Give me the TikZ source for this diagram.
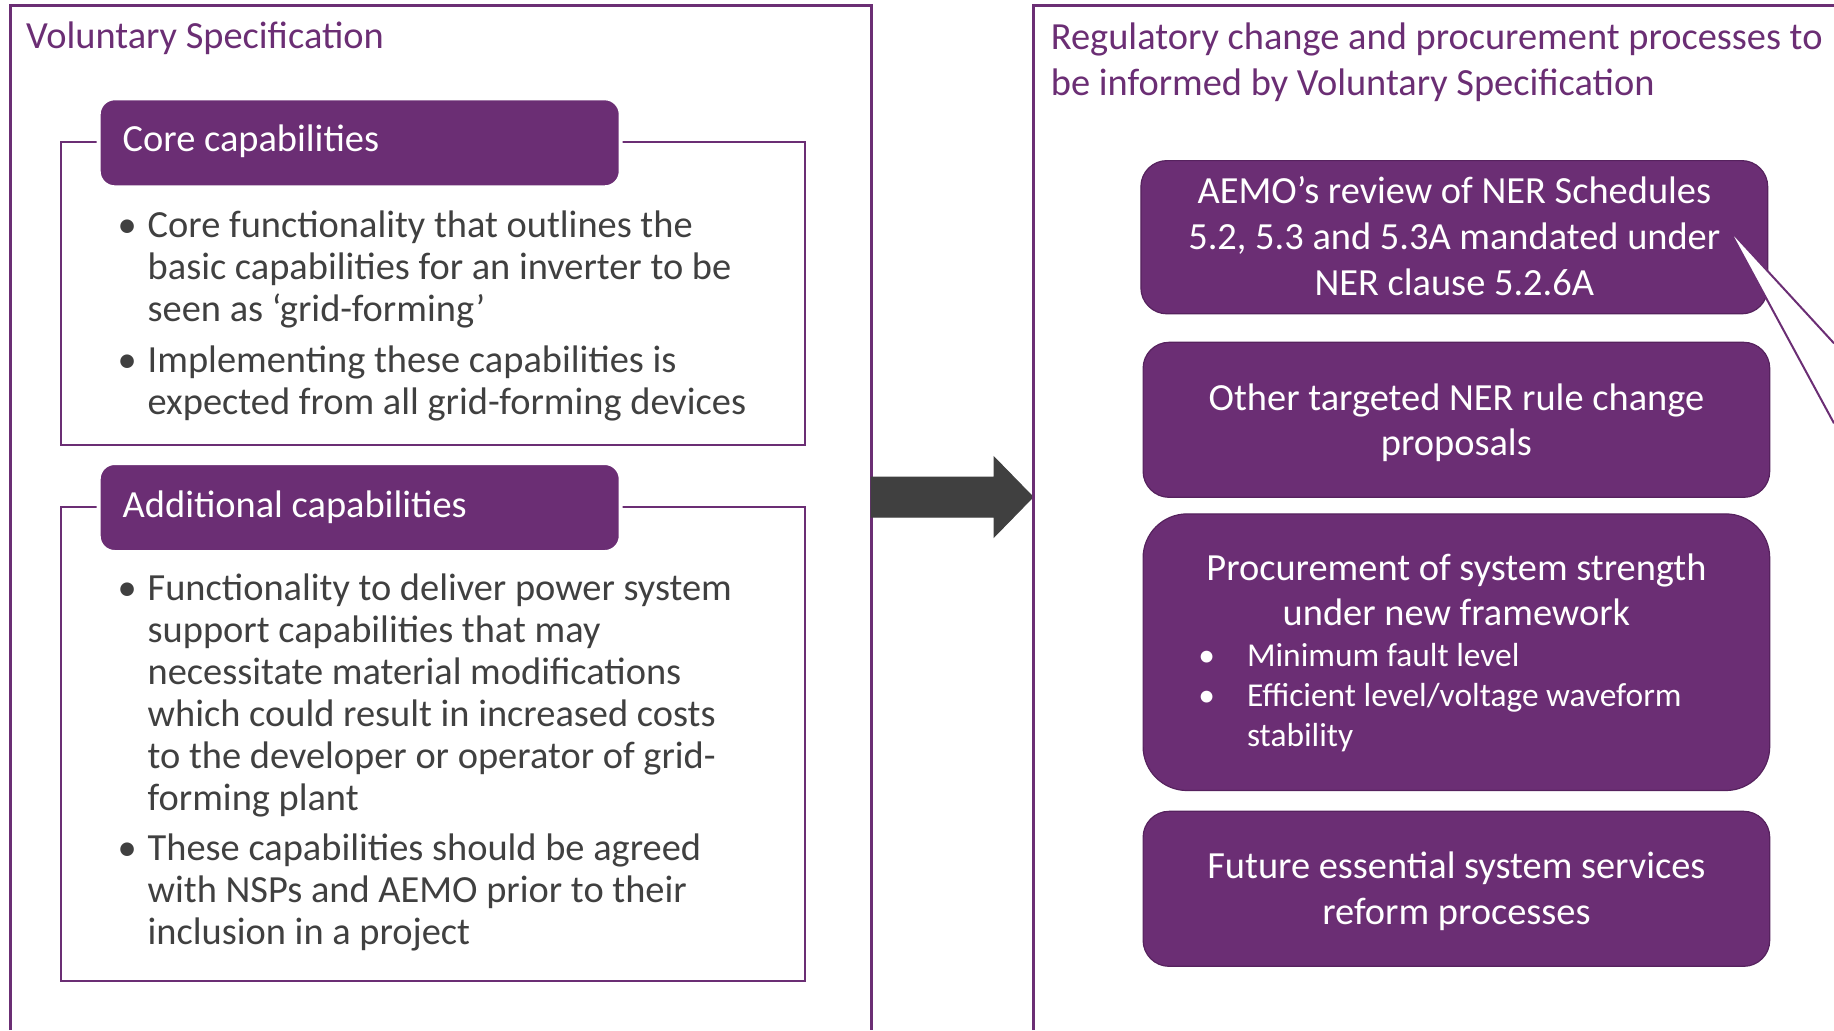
\documentclass[tikz,border=0pt]{standalone}
\usepackage{fontspec}
\setmainfont{Carlito}
\definecolor{plum}{RGB}{107,46,116}
\definecolor{plumdark}{RGB}{86,34,94}
\definecolor{ink}{RGB}{64,64,64}
\definecolor{arrowgray}{RGB}{64,64,64}

\begin{document}
\begin{tikzpicture}[x=0.5pt,y=-0.5pt,
  panel/.style={draw=plum, line width=1.5pt},
  framebox/.style={draw=plum, line width=1pt},
  header/.style={fill=plum, draw=white, line width=2pt, rounded corners=8pt,
    anchor=north west, inner sep=0pt},
  procbox/.style={fill=plum, draw=plumdark, line width=0.6pt, rounded corners=13pt,
    anchor=north west, inner sep=0pt},
  titletxt/.style={font=\fontsize{19.2}{21}\selectfont, text=plum, inner sep=0pt, anchor=base west},
  headtxt/.style={font=\fontsize{19.2}{21}\selectfont, text=white, inner sep=0pt, anchor=base west},
  body/.style={font=\fontsize{19.2}{21}\selectfont, text=ink, inner sep=0pt, anchor=base west},
  dot/.style={font=\fontsize{19.2}{21}\selectfont, text=ink, inner sep=0pt, anchor=base},
  boxtxt/.style={font=\fontsize{19.2}{21}\selectfont, text=white, inner sep=0pt, anchor=base},
  smalltxt/.style={font=\fontsize{16.7}{20}\selectfont, text=white, inner sep=0pt, anchor=base west},
  smalldot/.style={font=\fontsize{16.7}{20}\selectfont, text=white, inner sep=0pt, anchor=base},
]
\useasboundingbox (0,0) rectangle (1834,1030);

% ---------- left panel ----------
\draw[panel] (10.3,1030) -- (10.3,5.5) -- (871,5.5) -- (871,1030);
\node[titletxt] (ltitle) at (25.8,48.3) {Voluntary Specification};

% core capabilities
\draw[framebox] (60.5,142.3) rectangle (805,444.5);
\node[header, minimum width=261pt, minimum height=44.5pt] (corehead) at (96.7,96.3) {};
\node[headtxt] (coreheadtxt) at (122.3,151.7) {Core capabilities};
\node[dot] (cb1) at (127.3,237.3) {•};
\node[body] (c1) at (147.3,237.3) {Core functionality that outlines the};
\node[body] (c2) at (147.3,279.3) {basic capabilities for an inverter to be};
\node[body] (c3) at (147.3,321.3) {seen as ‘grid-forming’};
\node[dot] (cb2) at (127.3,372) {•};
\node[body] (c4) at (147.3,372) {Implementing these capabilities is};
\node[body] (c5) at (147.3,414) {expected from all grid-forming devices};

% additional capabilities
\draw[framebox] (60.5,506.5) rectangle (805,981);
\node[header, minimum width=261pt, minimum height=44.5pt] (addhead) at (96.7,461) {};
\node[headtxt] (addheadtxt) at (122.3,517.3) {Additional capabilities};
\node[dot] (ab1) at (127.3,600) {•};
\node[body] (a1) at (147.3,600) {Functionality to deliver power system};
\node[body] (a2) at (147.3,642) {support capabilities that may};
\node[body] (a3) at (147.3,684) {necessitate material modifications};
\node[body] (a4) at (147.3,726) {which could result in increased costs};
\node[body] (a5) at (147.3,768) {to the developer or operator of grid-};
\node[body] (a6) at (147.3,810) {forming plant};
\node[dot] (ab2) at (127.3,860.6) {•};
\node[body] (a7) at (147.3,860.6) {These capabilities should be agreed};
\node[body] (a8) at (147.3,902.6) {with NSPs and AEMO prior to their};
\node[body] (a9) at (147.3,944.6) {inclusion in a project};

% ---------- block arrow between panels ----------
\coordinate (arrA) at (871,477);
\coordinate (arrTip) at (1033,497);
\fill[arrowgray, draw=black!75, line width=0.5pt]
  (arrA) -- (994,477) -- (994,457) -- (arrTip) -- (994,537) -- (994,517) -- (871,517) -- cycle;

% ---------- right panel ----------
\draw[panel] (1033,1030) -- (1033,5.5) -- (1834,5.5);
\node[titletxt] (rtitle1) at (1050.5,49.3) {Regulatory change and procurement processes to};
\node[titletxt] (rtitle2) at (1050.5,95) {be informed by Voluntary Specification};

% review of schedules
\node[procbox, minimum width=313.4pt, minimum height=76.6pt] (aemo) at (1140.3,160) {};
\node[boxtxt] (r1) at (aemo.center |- 0,203.3) {AEMO’s review of NER Schedules};
\node[boxtxt] (r2) at (aemo.center |- 0,249.3) {5.2, 5.3 and 5.3A mandated under};
\node[boxtxt] (r3) at (aemo.center |- 0,295) {NER clause 5.2.6A};

% rule change proposals
\node[procbox, minimum width=313.3pt, minimum height=77.5pt] (ner) at (1142.5,341.7) {};
\node[boxtxt] (n1) at (ner.center |- 0,410) {Other targeted NER rule change};
\node[boxtxt] (n2) at (ner.center |- 0,455.7) {proposals};

% system strength procurement
\node[procbox, rounded corners=22pt, minimum width=313.3pt, minimum height=138.3pt] (proc) at (1142.5,513.3) {};
\node[boxtxt] (p1) at (proc.center |- 0,580) {Procurement of system strength};
\node[boxtxt] (p2) at (proc.center |- 0,625.7) {under new framework};
\node[smalldot] (pb1) at (1206.7,666.7) {•};
\node[smalltxt] (p3) at (1246.6,666.7) {Minimum fault level};
\node[smalldot] (pb2) at (1206.7,706.7) {•};
\node[smalltxt] (p4) at (1246.6,706.7) {Efficient level/voltage waveform};
\node[smalltxt] (p5) at (1246.6,746.7) {stability};

% essential system services
\node[procbox, minimum width=313.3pt, minimum height=77.5pt] (ess) at (1142.5,810.7) {};
\node[boxtxt] (e1) at (ess.center |- 0,878.3) {Future essential system services};
\node[boxtxt] (e2) at (ess.center |- 0,924) {reform processes};

% callout tail pointing into the first box
\coordinate (calltip) at (1728.3,228.3);
\coordinate (callA) at (1834,343.3);
\coordinate (callB) at (1834,423.3);
\fill[white] (callA) -- (calltip) -- (callB) -- cycle;
\draw[plum, line width=1pt] (callA) -- (calltip) -- (callB);
\end{tikzpicture}
\end{document}
